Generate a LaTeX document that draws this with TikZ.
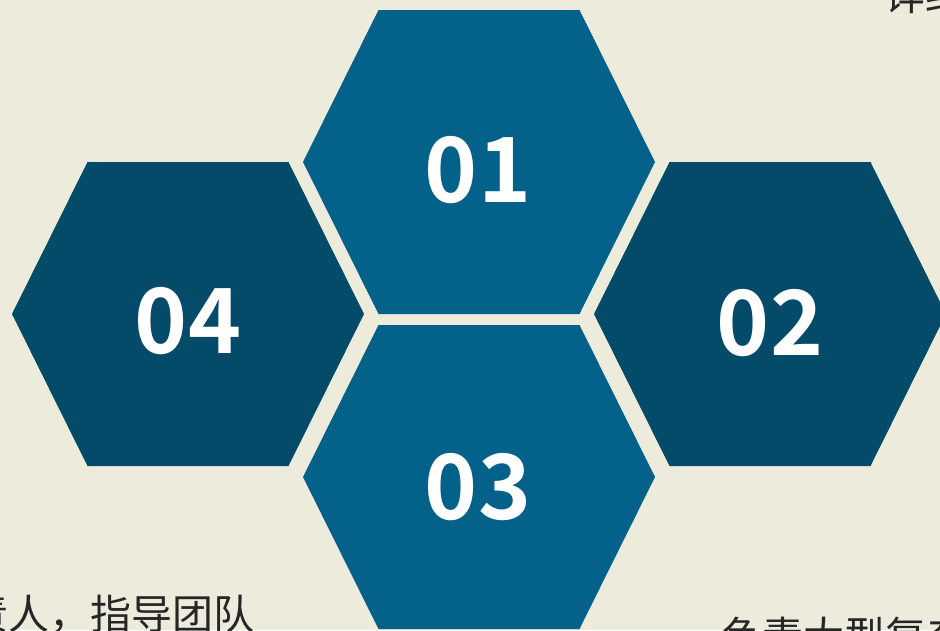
\documentclass[tikz,border=0pt]{standalone}
\usepackage{fontspec}
\setmainfont{Noto Sans CJK SC}
\newfontfamily\numfont{Noto Sans CJK SC}[BoldFont={* Bold}]
\definecolor{bgc}{HTML}{EDEBDB}
\definecolor{hexlight}{HTML}{03618A}
\definecolor{hexdark}{HTML}{034B69}
\tikzset{
  numtxt/.style={text=white, font=\numfont\bfseries\fontsize{90}{90}\selectfont, anchor=base, inner sep=0pt},
  sidetxt/.style={text=black!85, font=\fontsize{41}{41}\selectfont, anchor=base west, inner sep=0pt},
}
\newcommand{\hexpath}[3]{\fill[#3] (#1-176,#2) -- (#1-100.5,#2-152) -- (#1+100.5,#2-152) -- (#1+176,#2) -- (#1+100.5,#2+152) -- (#1-100.5,#2+152) -- cycle;}
\begin{document}
\begin{tikzpicture}[x=1pt,y=-1pt]
\useasboundingbox (0,0) rectangle (940,630);
\fill[bgc] (0,0) rectangle (940,630);
\begin{scope}
\clip (0,0) rectangle (940,630);
\hexpath{479}{162}{hexlight}
\hexpath{188}{314}{hexdark}
\hexpath{770}{314}{hexdark}
\hexpath{479}{477}{hexlight}
\node[numtxt] (n01) at (478,202) {01};
\node[numtxt] (n04) at (188,353) {04};
\node[numtxt] (n02) at (770,355) {02};
\node[numtxt] (n03) at (478,519) {03};
\node[sidetxt] (ttr) at (884,10) {详细};
\node[sidetxt] (tbl) at (-73.5,629) {负责人，指导团队};
\node[sidetxt] (tbr) at (721,651) {负责大型复杂};
\end{scope}
\end{tikzpicture}
\end{document}
